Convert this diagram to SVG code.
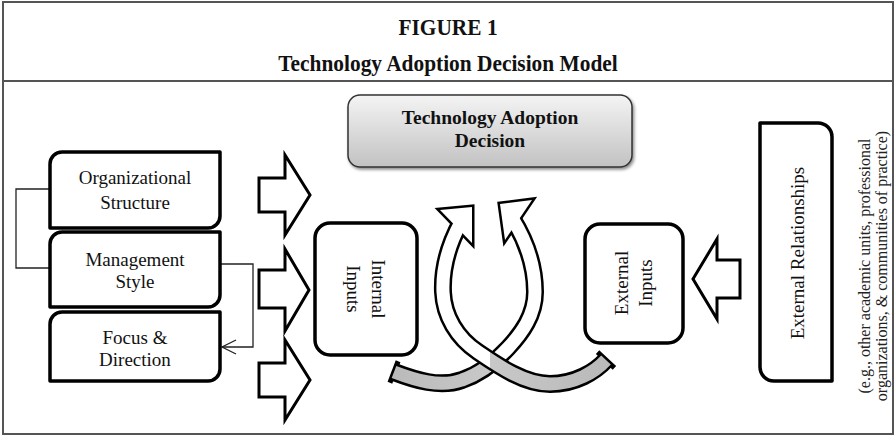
<svg xmlns="http://www.w3.org/2000/svg" width="896" height="436" viewBox="0 0 896 436">
<defs>
<style>
.frame{fill:none;stroke:#555;stroke-width:2}
.t{font-family:"Liberation Serif","Times New Roman",serif;fill:#111;text-anchor:middle}
.title{font-weight:bold;font-size:23px}
.lbl{font-size:19px}
.blbl{font-weight:bold;font-size:19.5px}
.note{font-size:16px;fill:#222}
.box{fill:#fff;stroke:#000;stroke-width:3.5;stroke-linejoin:round}
.barrow{fill:#fff;stroke:#000;stroke-width:3;stroke-linejoin:miter}
.thin{fill:none;stroke:#222;stroke-width:1.3}
.band-o{fill:none;stroke:#000;stroke-width:18}
.band-i{fill:none;stroke-width:13}
.head-o{fill:none;stroke:#000;stroke-width:5;stroke-linejoin:miter}
.head-i{fill:#fff;stroke:none}
.cap{stroke:#000;stroke-width:5;stroke-linecap:square}
</style>
<linearGradient id="gTop" x1="0" y1="0" x2="0" y2="1">
<stop offset="0" stop-color="#f4f4f4"/>
<stop offset="1" stop-color="#c2c2c2"/>
</linearGradient>
<linearGradient id="gR" gradientUnits="userSpaceOnUse" x1="380" y1="0" x2="620" y2="0">
<stop offset="0" stop-color="#b8b8b8"/>
<stop offset="0.458" stop-color="#c8c8c8"/>
<stop offset="0.458" stop-color="#fff"/>
<stop offset="1" stop-color="#fff"/>
</linearGradient>
<linearGradient id="gL" gradientUnits="userSpaceOnUse" x1="380" y1="0" x2="620" y2="0">
<stop offset="0" stop-color="#fff"/>
<stop offset="0.458" stop-color="#fff"/>
<stop offset="0.458" stop-color="#c8c8c8"/>
<stop offset="1" stop-color="#b8b8b8"/>
</linearGradient>
<filter id="sh" x="-10%" y="-10%" width="120%" height="130%">
<feDropShadow dx="1.5" dy="2" stdDeviation="1.5" flood-color="#000" flood-opacity="0.45"/>
</filter>
</defs>

<rect class="frame" x="3" y="2" width="890" height="432"/>
<line class="frame" x1="3" y1="81" x2="893" y2="81"/>
<text class="t title" transform="translate(448,35) scale(0.93,1)">FIGURE 1</text>
<text class="t title" transform="translate(448,71) scale(0.93,1)">Technology Adoption Decision Model</text>

<g id="connectors">
<path class="thin" d="M50,189 H16 V268 H50"/>
<path class="thin" d="M220,264 H253 V347 H222"/>
<path class="thin" d="M236,340 L222,347 L236,354"/>
</g>

<g id="decision">
<rect x="348" y="95" width="284" height="72" rx="12" fill="url(#gTop)" stroke="#333" stroke-width="1.5" filter="url(#sh)"/>
<text class="t blbl" x="490" y="124">Technology Adoption</text>
<text class="t blbl" x="490" y="147">Decision</text>
</g>

<g id="org-structure">
<path class="box" d="M62,152 H220 V216 A12,12 0 0 1 208,228 H50 V164 A12,12 0 0 1 62,152 Z"/>
<text class="t lbl" x="135" y="184">Organizational</text>
<text class="t lbl" x="135" y="209">Structure</text>
</g>
<g id="management-style">
<path class="box" d="M62,232 H220 V295 A12,12 0 0 1 208,307 H50 V244 A12,12 0 0 1 62,232 Z"/>
<text class="t lbl" x="135" y="266">Management</text>
<text class="t lbl" x="135" y="288">Style</text>
</g>
<g id="focus-direction">
<path class="box" d="M62,312 H220 V369 A12,12 0 0 1 208,381 H50 V324 A12,12 0 0 1 62,312 Z"/>
<text class="t lbl" x="135" y="344">Focus &amp;</text>
<text class="t lbl" x="135" y="366">Direction</text>
</g>

<g id="block-arrows">
<path class="barrow" d="M259,178 H285 V155 L310,195 L285,235 V212 H259 Z"/>
<path class="barrow" d="M259,270 H285 V249 L309,290 L285,331 V308 H259 Z"/>
<path class="barrow" d="M259,363 H285 V340 L310,380 L285,420 V397 H259 Z"/>
<path class="barrow" d="M740,260 H717 V239 L693,279 L717,319 V298 H740 Z"/>
</g>

<g id="internal-inputs">
<rect class="box" x="315" y="223" width="102" height="132" rx="15"/>
<text class="t lbl" transform="translate(366,289) rotate(90)"><tspan x="0" y="-6">Internal</tspan><tspan x="0" y="19">Inputs</tspan></text>
</g>

<g id="external-inputs">
<rect class="box" x="585" y="224" width="98" height="119" rx="15"/>
<text class="t lbl" transform="translate(634,283) rotate(-90)"><tspan x="0" y="-6">External</tspan><tspan x="0" y="18">Inputs</tspan></text>
</g>

<g id="external-relationships">
<path class="box" d="M760,123 H818 A14,14 0 0 1 832,137 V381 H774 A14,14 0 0 1 760,367 Z"/>
<text class="t lbl" transform="translate(804,253) rotate(-90)" x="0" y="0">External Relationships</text>
<text class="t note" transform="translate(870,266) rotate(-90)"><tspan x="0" y="0">(e.g., other academic units, professional</tspan><tspan x="0" y="17">organizations, &amp; communities of practice)</tspan></text>
</g>

<g id="feedback-arrows">
<g id="arrow-right">
<path class="band-o" d="M394,372 C415,380 440,388 462,380 C480,374 495,362 508,348 C522,333 535,315 535,292 C535,268 527,242 512,218"/>
<polygon class="head-o" points="500,204 532,200 505,240"/>
<line class="cap" x1="397.2" y1="363.6" x2="390.8" y2="380.4"/>
<path class="band-i" stroke="url(#gR)" d="M394,372 C415,380 440,388 462,380 C480,374 495,362 508,348 C522,333 535,315 535,292 C535,268 527,242 512,218"/>
<polygon class="head-i" points="500,204 532,200 505,240"/>
</g>
<g id="arrow-left">
<path class="band-o" d="M461,222 C449,244 442,268 443,292 C444,316 457,338 478,352 C500,367 525,384 550,384 C575,384 595,372 606,360"/>
<polygon class="head-o" points="440,210 472,207 472,243"/>
<line class="cap" x1="599.4" y1="353.9" x2="612.6" y2="366.1"/>
<path class="band-i" stroke="url(#gL)" d="M461,222 C449,244 442,268 443,292 C444,316 457,338 478,352 C500,367 525,384 550,384 C575,384 595,372 606,360"/>
<polygon class="head-i" points="440,210 472,207 472,243"/>
</g>
</g>
</svg>
